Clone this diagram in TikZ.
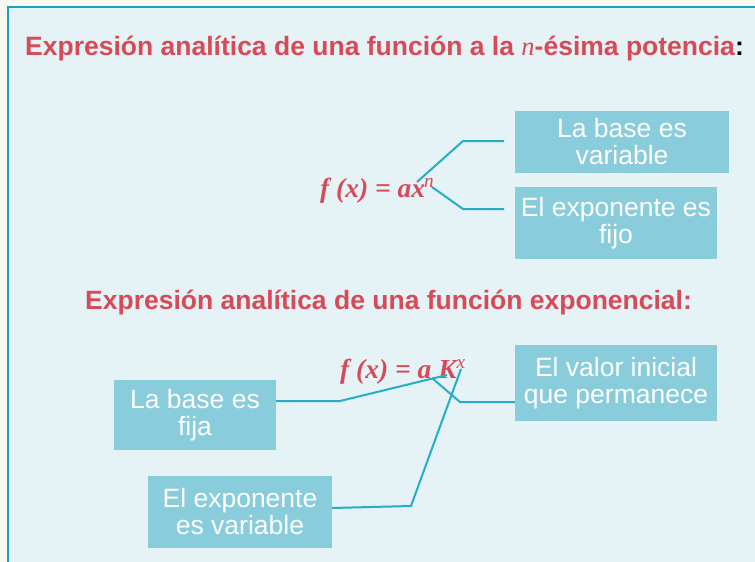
\documentclass[tikz,border=0pt]{standalone}
\usepackage{fontspec}
\setmainfont{Liberation Sans}
\newfontfamily\timesf{Liberation Serif}
\definecolor{cream}{HTML}{FAF8F1}
\definecolor{panelbg}{HTML}{E5F2F6}
\definecolor{panelrule}{HTML}{14A5BE}
\definecolor{boxfill}{HTML}{89CCDB}
\definecolor{titlered}{HTML}{D64B57}
\definecolor{linkcol}{HTML}{27ADC8}
\tikzset{
  infobox/.style={fill=boxfill, text=white, align=center, inner sep=0pt,
    font=\fontsize{26.5}{27}\selectfont},
  titletext/.style={anchor=base west, inner sep=0pt, text=titlered,
    font=\fontsize{26.5}{30}\selectfont\bfseries},
  formula/.style={anchor=base west, inner sep=0pt, text=titlered,
    font=\fontsize{27.5}{30}\selectfont\timesf\bfseries\itshape},
  link/.style={draw=linkcol, line width=2pt, line join=miter}
}
\begin{document}
\begin{tikzpicture}[x=1pt,y=-1pt]
\useasboundingbox (0,0) rectangle (755,562);
\fill[cream] (0,0) rectangle (755,562);
\draw[panelrule, fill=panelbg, line width=2.5pt] (8,7) rectangle (775,585);

\node[titletext] (t1) at (25,55) {Expresión analítica de una función a la {\timesf\itshape\mdseries n}-ésima potencia\textcolor{black}{:}};
\node[titletext] (t2) at (85,309) {Expresión analítica de una función exponencial:};

\node[formula] (f1) at (320,197) {f (x) = ax\kern-1pt\textsuperscript{\mdseries n}};
\node[formula] (f2) at (340,378) {f (x) = a K\textsuperscript{\mdseries x}};

\node[infobox, minimum width=214, minimum height=62] (b1) at (622,142) {La base es\\variable};
\node[infobox, minimum width=202, minimum height=72] (b2) at (616,223) {El exponente es\\fijo};
\node[infobox, minimum width=202, minimum height=76] (b3) at (616,383) {El valor inicial\\que permanece};
\node[infobox, minimum width=162, minimum height=70] (b4) at (195,415) {La base es\\fija};
\node[infobox, minimum width=184, minimum height=72] (b5) at (240,512) {El exponente\\es variable};

\coordinate (f1up) at (417,182);
\coordinate (f1dn) at (432,187);
\coordinate (b1in) at (504,141);
\coordinate (b2in) at (504,209);
\coordinate (f2a) at (447,375);
\coordinate (f2K) at (432,378);
\coordinate (f2x) at (461,369);

\draw[link] (f1up) -- (463,141) -- (b1in);
\draw[link] (f1dn) -- (463,209) -- (b2in);
\draw[link] ([yshift=14pt]b4.east) -- (340,401) -- (f2a);
\draw[link] (f2K) -- (460,402) -- ([yshift=-19pt]b3.west);
\draw[link] ([yshift=4pt]b5.east) -- (411,506) -- (f2x);
\end{tikzpicture}
\end{document}
